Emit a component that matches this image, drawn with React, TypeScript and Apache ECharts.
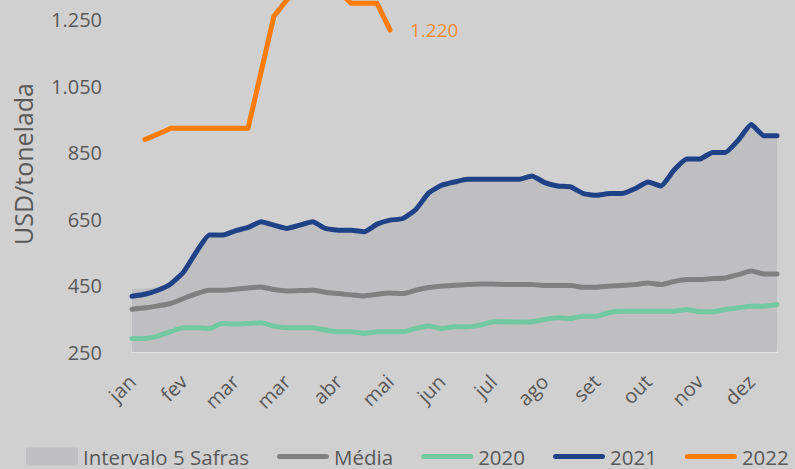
import React, { useEffect, useRef } from 'react';
import * as echarts from 'echarts';

const monthLabels = ['jan', 'fev', 'mar', 'mar', 'abr', 'mai', 'jun', 'jul', 'ago', 'set', 'out', 'nov', 'dez'];
const weeks = Array.from({ length: 51 }, (_, i) => `S${i + 1}`);

const intervaloMax = [440, 441, 445, 455, 491, 552, 602, 602, 615, 625, 642, 632, 622, 632, 642, 622, 617, 617, 612, 635,
  647, 652, 679, 729, 752, 762, 770, 770, 770, 770, 770, 780, 760, 750, 747, 727, 722, 727, 727, 742,
  762, 750, 797, 831, 831, 851, 851, 888, 935, 901, 901];
const media = [379, 383, 389, 396, 411, 426, 436, 436, 439, 443, 446, 438, 434, 435, 436, 430, 426, 422, 419, 424,
  428, 426, 436, 444, 449, 451, 453, 455, 455, 453, 453, 453, 450, 450, 450, 445, 445, 449, 450, 453,
  458, 453, 462, 468, 468, 471, 473, 483, 494, 485, 485];
const s2020 = [291, 291, 298, 311, 323, 323, 321, 336, 334, 336, 338, 328, 323, 323, 323, 316, 311, 311, 306, 311,
  311, 311, 321, 328, 321, 326, 326, 331, 341, 341, 340, 341, 348, 353, 351, 358, 358, 369, 373, 373,
  373, 373, 373, 378, 371, 371, 378, 383, 388, 388, 393];
const s2021 = [418, 424, 436, 455, 491, 552, 602, 602, 615, 625, 642, 632, 622, 632, 642, 622, 617, 617, 612, 635,
  647, 652, 679, 729, 752, 762, 770, 770, 770, 770, 770, 780, 760, 750, 747, 727, 722, 727, 727, 742,
  762, 750, 797, 831, 831, 851, 851, 888, 935, 901, 901];
const s2022: (number | null)[] = [null, 890, 906, 924, 924, 924, 924, 924, 924, 924, 1092, 1261, 1310, 1345, 1370, 1370, 1335, 1300, 1300, 1300,
  1220];

const FONT = 'Open Sans';
const TXT = '#595959';
const LINE_ICON = 'path://M2.5,0H49.5A2.5,2.5,0,0,1,49.5,5H2.5A2.5,2.5,0,0,1,2.5,0Z';

function fmt(v: number): string {
  return String(v).replace(/\B(?=(\d{3})+(?!\d))/g, '.');
}

export default function App() {
  const ref = useRef<HTMLDivElement>(null);
  useEffect(() => {
    if (!ref.current) return;
    const chart = echarts.init(ref.current, null, { renderer: 'svg' });
    let lastIdx = 0;
    s2022.forEach((v, i) => { if (v != null) lastIdx = i; });
    const lineBase = (name: string, data: (number | null)[], color: string, smooth: number | boolean) => ({
      name,
      type: 'line',
      data,
      symbol: 'none',
      smooth,
      color,
      lineStyle: { color, width: 5, cap: 'round', join: 'round' },
      z: 3,
    });
    chart.setOption({
      animation: false,
      backgroundColor: '#d0d0d0',
      textStyle: { fontFamily: FONT },
      grid: { left: 132, right: 18, top: 0, bottom: 117, containLabel: false },
      legend: {
        left: 26,
        top: 446,
        width: 1200,
        padding: 0,
        itemWidth: 52,
        itemHeight: 18,
        itemGap: 28,
        symbolKeepAspect: true,
        textStyle: { fontFamily: FONT, fontSize: 20.5, color: TXT },
        data: [
          { name: 'Intervalo 5 Safras', icon: 'rect' },
          { name: 'Média', icon: LINE_ICON },
          { name: '2020', icon: LINE_ICON },
          { name: '2021', icon: LINE_ICON },
          { name: '2022', icon: LINE_ICON },
        ],
      },
      xAxis: {
        type: 'category',
        data: weeks,
        boundaryGap: false,
        axisTick: { show: false },
        axisLine: { show: true, lineStyle: { color: '#e2e2e2', width: 2 } },
        axisLabel: {
          interval: 3,
          rotate: 45,
          margin: 26,
          fontFamily: FONT,
          fontSize: 20,
          color: TXT,
          formatter: (_v: string, idx: number) => monthLabels[Math.round(idx / 4)] ?? '',
        },
        splitLine: { show: false },
      },
      yAxis: {
        type: 'value',
        min: 250,
        max: 1310,
        interval: 200,
        axisLine: { show: false },
        axisTick: { show: false },
        splitLine: { show: false },
        axisLabel: {
          margin: 30,
          showMaxLabel: false,
          fontFamily: FONT,
          fontSize: 20,
          color: TXT,
          formatter: (v: number) => (v % 200 === 50 ? fmt(v) : ''),
        },
      },
      graphic: [
        {
          type: 'text',
          x: 23,
          y: 164,
          rotation: Math.PI / 2,
          style: {
            text: 'USD/tonelada',
            fontFamily: FONT,
            fontSize: 25,
            fill: TXT,
            align: 'center',
            verticalAlign: 'middle',
          },
        },
      ],
      series: [
        {
          name: 'Intervalo 5 Safras',
          type: 'line',
          data: intervaloMax,
          symbol: 'none',
          color: '#bfbfc2',
          lineStyle: { width: 0 },
          areaStyle: { color: '#bfbfc2', opacity: 1, origin: 'start' },
          z: 1,
        },
        lineBase('Média', media, '#808080', 0.2),
        lineBase('2020', s2020, '#72c8a1', 0.2),
        lineBase('2021', s2021, '#1f4287', 0.15),
        lineBase('2022', s2022, '#ff7c00', false),
        {
          name: 'rotulo2022',
          type: 'scatter',
          data: [[lastIdx, s2022[lastIdx]]],
          symbolSize: 0,
          silent: true,
          z: 4,
          label: {
            show: true,
            position: 'right',
            distance: 20,
            fontFamily: FONT,
            fontSize: 19,
            color: '#ff7c00',
            formatter: (p: any) => fmt(p.value[1]),
          },
        },
      ],
    });
    return () => chart.dispose();
  }, []);
  return <div ref={ref} style={{ position: 'fixed', left: 0, top: 0, width: 795, height: 469 }} />;
}
